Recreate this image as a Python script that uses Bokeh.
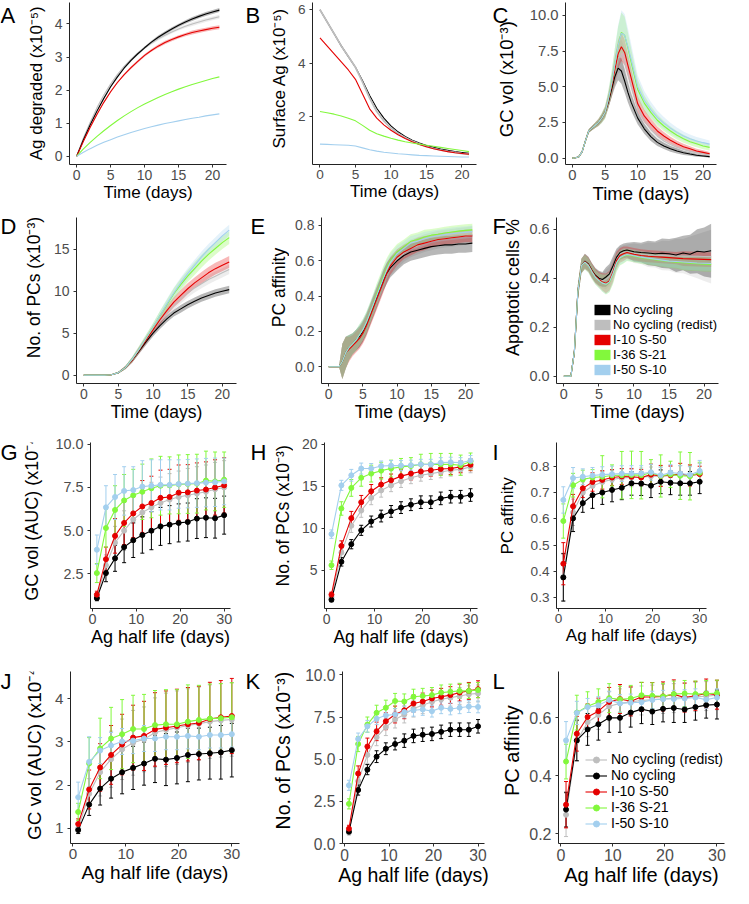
import math
from bokeh.plotting import figure
from bokeh.layouts import column, row
from bokeh.models import (Range1d, FixedTicker, PrintfTickFormatter, Label, Legend, LegendItem,
                          Whisker, TeeHead, ColumnDataSource)
from bokeh.embed import file_html
from bokeh.resources import INLINE

FONT = "Liberation Sans"
ORDER = ["gray", "black", "red", "green", "blue"]
COLOR = {"black": "#000000", "gray": "#BEBEBE", "red": "#E50000", "green": "#82F83C", "blue": "#A3CFEE"}
NAMES = {"black": "No cycling", "gray": "No cycling (redist)", "red": "I-10 S-50",
         "green": "I-36 S-21", "blue": "I-50 S-10"}

# ---------------- time course data ----------------
T_DAY = [0, 1, 2, 3, 4, 5, 6, 7, 8, 9, 10, 11, 12, 13, 14, 15, 16, 17, 18, 19, 20, 21]
T_FINE = [0, 0.5, 1, 1.5, 2, 2.5, 3, 3.5, 4, 4.5, 5, 5.5, 6, 6.5, 7, 7.5, 8, 8.5, 9,
          10, 11, 12, 13, 14, 15, 16, 17, 18, 19, 20, 21]

# A: Ag degraded (x1e-5)
A_black = [0, 0.5, 0.95, 1.37, 1.75, 2.1, 2.4, 2.67, 2.9, 3.1, 3.28, 3.45, 3.6, 3.73, 3.85, 3.96, 4.06, 4.15, 4.23, 4.3, 4.36, 4.42]
A_gray = [0, 0.55, 1.03, 1.47, 1.85, 2.18, 2.47, 2.72, 2.93, 3.12, 3.28, 3.42, 3.55, 3.66, 3.76, 3.85, 3.93, 4.0, 4.06, 4.12, 4.17, 4.22]
A_red = [0, 0.45, 0.88, 1.27, 1.63, 1.95, 2.23, 2.47, 2.68, 2.87, 3.05, 3.2, 3.33, 3.44, 3.53, 3.61, 3.68, 3.74, 3.79, 3.83, 3.87, 3.9]
A_green = [0, 0.22, 0.42, 0.6, 0.77, 0.93, 1.08, 1.22, 1.35, 1.47, 1.58, 1.68, 1.78, 1.87, 1.95, 2.03, 2.1, 2.17, 2.23, 2.29, 2.35, 2.4]
A_blue = [0, 0.12, 0.23, 0.33, 0.42, 0.5, 0.58, 0.65, 0.72, 0.78, 0.84, 0.89, 0.94, 0.99, 1.03, 1.07, 1.11, 1.15, 1.18, 1.22, 1.25, 1.28]
A_sd = [0, 0.01, 0.01, 0.02, 0.02, 0.03, 0.03, 0.03, 0.04, 0.04, 0.04, 0.04, 0.05, 0.05, 0.05, 0.05, 0.05, 0.06, 0.06, 0.06, 0.06, 0.06]

# B: Surface Ag (x1e-5)
B_gray = [6.0, 5.55, 5.1, 4.65, 4.25, 3.85, 3.3, 2.7, 2.2, 1.85, 1.58, 1.38, 1.22, 1.09, 0.98, 0.89, 0.82, 0.76, 0.71, 0.67, 0.63, 0.6]
B_black = [6.0, 5.55, 5.1, 4.65, 4.25, 3.85, 3.35, 2.8, 2.32, 1.95, 1.66, 1.44, 1.27, 1.13, 1.02, 0.93, 0.86, 0.8, 0.75, 0.7, 0.67, 0.64]
B_red = [4.95, 4.65, 4.35, 4.05, 3.75, 3.4, 2.85, 2.3, 1.95, 1.7, 1.5, 1.33, 1.19, 1.07, 0.97, 0.88, 0.81, 0.75, 0.7, 0.66, 0.63, 0.6]
B_green = [2.2, 2.15, 2.1, 2.03, 1.95, 1.85, 1.68, 1.5, 1.37, 1.28, 1.2, 1.13, 1.07, 1.02, 0.98, 0.94, 0.9, 0.86, 0.82, 0.78, 0.74, 0.7]
B_blue = [0.98, 0.97, 0.96, 0.95, 0.94, 0.91, 0.84, 0.77, 0.72, 0.68, 0.65, 0.62, 0.6, 0.58, 0.56, 0.55, 0.54, 0.53, 0.52, 0.51, 0.5, 0.5]

# C: GC vol (x1e-3)
C_black = [0, 0.02, 0.1, 0.45, 1.2, 1.9, 2.1, 2.3, 2.5, 2.8, 3.2, 3.9, 4.8, 5.7, 6.3, 6.1, 5.4, 4.6, 3.9, 2.8, 2.05, 1.5, 1.1, 0.85, 0.65, 0.5, 0.37, 0.28, 0.2, 0.15, 0.1]
C_gray = [0, 0.02, 0.1, 0.45, 1.2, 1.9, 2.1, 2.3, 2.5, 2.8, 3.2, 4.0, 5.0, 6.1, 7.0, 7.2, 6.7, 5.9, 5.0, 3.5, 2.6, 2.0, 1.55, 1.2, 0.95, 0.75, 0.6, 0.47, 0.37, 0.3, 0.22]
C_red = [0, 0.02, 0.1, 0.45, 1.2, 1.9, 2.1, 2.3, 2.5, 2.8, 3.2, 4.0, 5.0, 6.2, 7.3, 7.8, 7.4, 6.5, 5.6, 3.8, 2.95, 2.4, 1.9, 1.55, 1.25, 1.0, 0.8, 0.65, 0.5, 0.4, 0.3]
C_green = [0, 0.02, 0.1, 0.45, 1.2, 1.9, 2.1, 2.3, 2.5, 2.8, 3.2, 4.1, 5.2, 6.6, 7.9, 8.8, 8.6, 7.7, 6.7, 4.8, 3.85, 3.2, 2.65, 2.25, 1.9, 1.6, 1.35, 1.15, 1.0, 0.85, 0.75]
C_blue = [0, 0.02, 0.1, 0.45, 1.2, 1.9, 2.1, 2.3, 2.5, 2.8, 3.2, 4.1, 5.2, 6.6, 7.9, 8.75, 8.6, 7.8, 6.9, 5.0, 4.05, 3.4, 2.85, 2.45, 2.1, 1.8, 1.55, 1.35, 1.2, 1.08, 0.98]
C_black_sd = [0, 0, 0.01, 0.03, 0.08, 0.12, 0.15, 0.18, 0.2, 0.25, 0.3, 0.4, 0.55, 0.75, 0.85, 0.9, 0.8, 0.7, 0.6, 0.45, 0.35, 0.3, 0.25, 0.22, 0.2, 0.18, 0.15, 0.12, 0.1, 0.08, 0.07]
C_gray_sd = [0, 0, 0.01, 0.03, 0.08, 0.12, 0.15, 0.2, 0.25, 0.3, 0.4, 0.55, 0.75, 0.95, 1.1, 1.1, 1.0, 0.85, 0.7, 0.55, 0.45, 0.35, 0.3, 0.27, 0.24, 0.2, 0.18, 0.15, 0.13, 0.11, 0.1]
C_red_sd = [0, 0, 0.01, 0.03, 0.08, 0.12, 0.15, 0.2, 0.25, 0.3, 0.4, 0.5, 0.7, 0.9, 1.0, 1.0, 0.9, 0.8, 0.7, 0.55, 0.45, 0.38, 0.32, 0.28, 0.25, 0.22, 0.2, 0.18, 0.16, 0.14, 0.12]
C_green_sd = [0, 0, 0.01, 0.03, 0.08, 0.12, 0.15, 0.2, 0.25, 0.35, 0.45, 0.6, 0.85, 1.1, 1.3, 1.4, 1.3, 1.1, 0.95, 0.7, 0.55, 0.45, 0.4, 0.35, 0.32, 0.3, 0.28, 0.26, 0.25, 0.24, 0.22]
C_blue_sd = [0, 0, 0.01, 0.03, 0.08, 0.12, 0.15, 0.2, 0.25, 0.35, 0.45, 0.6, 0.85, 1.1, 1.4, 1.6, 1.5, 1.3, 1.1, 0.8, 0.65, 0.55, 0.48, 0.42, 0.38, 0.35, 0.32, 0.3, 0.28, 0.27, 0.25]

# D: No. of PCs (x1e-3)
D_black = [0, 0, 0, 0, 0.05, 0.3, 0.9, 1.8, 2.9, 4.0, 5.0, 5.9, 6.7, 7.4, 7.9, 8.4, 8.8, 9.2, 9.5, 9.8, 10.0, 10.2]
D_gray = [0, 0, 0, 0, 0.05, 0.3, 0.9, 1.8, 3.0, 4.2, 5.3, 6.4, 7.4, 8.3, 9.1, 9.8, 10.4, 10.9, 11.4, 11.8, 12.2, 12.6]
D_red = [0, 0, 0, 0, 0.05, 0.3, 0.9, 1.8, 3.0, 4.2, 5.4, 6.6, 7.7, 8.7, 9.5, 10.3, 11.0, 11.6, 12.2, 12.7, 13.1, 13.5]
D_green = [0, 0, 0, 0, 0.05, 0.3, 0.9, 1.9, 3.1, 4.4, 5.7, 7.1, 8.4, 9.7, 10.8, 11.8, 12.7, 13.6, 14.4, 15.1, 15.8, 16.4]
D_blue = [0, 0, 0, 0, 0.05, 0.3, 0.9, 1.9, 3.1, 4.4, 5.7, 7.1, 8.5, 9.8, 11.0, 12.1, 13.1, 14.1, 15.0, 15.8, 16.6, 17.3]
D_black_sd = [0, 0, 0, 0, 0.02, 0.1, 0.2, 0.3, 0.35, 0.4, 0.4, 0.4, 0.4, 0.4, 0.45, 0.45, 0.45, 0.45, 0.45, 0.45, 0.45, 0.45]
D_gray_sd = [0, 0, 0, 0, 0.02, 0.1, 0.2, 0.3, 0.35, 0.4, 0.45, 0.5, 0.5, 0.5, 0.55, 0.55, 0.55, 0.55, 0.55, 0.55, 0.55, 0.55]
D_red_sd = [0, 0, 0, 0, 0.02, 0.1, 0.2, 0.3, 0.4, 0.45, 0.5, 0.55, 0.6, 0.6, 0.65, 0.65, 0.65, 0.7, 0.7, 0.7, 0.7, 0.7]
D_green_sd = [0, 0, 0, 0, 0.02, 0.1, 0.2, 0.3, 0.4, 0.45, 0.5, 0.55, 0.6, 0.65, 0.7, 0.7, 0.75, 0.75, 0.75, 0.75, 0.75, 0.75]
D_blue_sd = [0, 0, 0, 0, 0.02, 0.1, 0.2, 0.3, 0.4, 0.45, 0.5, 0.55, 0.6, 0.65, 0.65, 0.65, 0.65, 0.65, 0.65, 0.65, 0.65, 0.65]

# E: PC affinity
E_black = [0, 0, 0, 0, 0.03, 0.08, 0.11, 0.13, 0.15, 0.17, 0.2, 0.24, 0.29, 0.34, 0.39, 0.44, 0.49, 0.53, 0.56, 0.6, 0.63, 0.65, 0.66, 0.67, 0.68, 0.685, 0.69, 0.69, 0.695, 0.695, 0.7]
E_gray = [0, 0, 0, 0, 0.03, 0.08, 0.11, 0.13, 0.15, 0.17, 0.2, 0.24, 0.29, 0.34, 0.39, 0.44, 0.49, 0.53, 0.57, 0.61, 0.645, 0.67, 0.685, 0.7, 0.71, 0.72, 0.725, 0.73, 0.735, 0.74, 0.745]
E_red = [0, 0, 0, 0, 0.03, 0.08, 0.1, 0.12, 0.14, 0.16, 0.19, 0.23, 0.28, 0.33, 0.38, 0.43, 0.48, 0.53, 0.57, 0.62, 0.65, 0.67, 0.69, 0.7, 0.71, 0.72, 0.725, 0.73, 0.735, 0.74, 0.74]
E_green = [0, 0, 0, 0, 0.03, 0.08, 0.11, 0.13, 0.15, 0.18, 0.21, 0.25, 0.3, 0.35, 0.41, 0.46, 0.51, 0.56, 0.6, 0.65, 0.68, 0.71, 0.72, 0.735, 0.745, 0.75, 0.757, 0.763, 0.768, 0.772, 0.775]
E_blue = [0, 0, 0, 0, 0.03, 0.08, 0.11, 0.13, 0.15, 0.18, 0.21, 0.25, 0.3, 0.35, 0.4, 0.45, 0.5, 0.55, 0.59, 0.64, 0.67, 0.7, 0.71, 0.725, 0.735, 0.742, 0.748, 0.753, 0.757, 0.761, 0.765]
E_sd_black = [0, 0, 0, 0, 0.1, 0.09, 0.07, 0.06, 0.06, 0.06, 0.06, 0.06, 0.06, 0.06, 0.06, 0.06, 0.06, 0.06, 0.055, 0.055, 0.05, 0.05, 0.05, 0.05, 0.05, 0.05, 0.05, 0.05, 0.05, 0.05, 0.05]
E_sd_other = [0, 0, 0, 0, 0.1, 0.09, 0.07, 0.06, 0.06, 0.06, 0.06, 0.06, 0.06, 0.06, 0.06, 0.06, 0.06, 0.055, 0.05, 0.045, 0.04, 0.04, 0.04, 0.04, 0.035, 0.035, 0.035, 0.035, 0.035, 0.035, 0.035]

# F: Apoptotic cells %
F_black = [0, 0, 0, 0.1, 0.345, 0.45, 0.47, 0.458, 0.432, 0.412, 0.4, 0.395, 0.405, 0.418, 0.45, 0.485, 0.505, 0.512, 0.515, 0.508, 0.505, 0.503, 0.5, 0.502, 0.5, 0.495, 0.503, 0.498, 0.51, 0.507, 0.512]
F_gray = [0, 0, 0, 0.1, 0.345, 0.45, 0.47, 0.458, 0.43, 0.41, 0.398, 0.39, 0.395, 0.408, 0.44, 0.478, 0.5, 0.505, 0.508, 0.502, 0.498, 0.496, 0.494, 0.493, 0.492, 0.491, 0.49, 0.49, 0.49, 0.489, 0.488]
F_red = [0, 0, 0, 0.1, 0.345, 0.45, 0.468, 0.455, 0.43, 0.408, 0.395, 0.385, 0.379, 0.39, 0.425, 0.472, 0.493, 0.5, 0.505, 0.498, 0.493, 0.49, 0.488, 0.486, 0.484, 0.482, 0.48, 0.479, 0.478, 0.477, 0.476]
F_green = [0, 0, 0, 0.1, 0.345, 0.45, 0.466, 0.452, 0.426, 0.404, 0.39, 0.38, 0.374, 0.383, 0.415, 0.46, 0.482, 0.49, 0.495, 0.49, 0.484, 0.48, 0.476, 0.472, 0.468, 0.465, 0.463, 0.461, 0.459, 0.457, 0.456]
F_blue = [0, 0, 0, 0.1, 0.345, 0.45, 0.466, 0.452, 0.426, 0.404, 0.39, 0.38, 0.375, 0.385, 0.418, 0.462, 0.484, 0.492, 0.497, 0.492, 0.486, 0.482, 0.478, 0.474, 0.47, 0.468, 0.466, 0.464, 0.462, 0.461, 0.46]
F_sd_wide = [0, 0, 0, 0.02, 0.03, 0.03, 0.03, 0.03, 0.03, 0.03, 0.03, 0.03, 0.04, 0.04, 0.04, 0.035, 0.03, 0.03, 0.03, 0.04, 0.04, 0.05, 0.05, 0.06, 0.06, 0.07, 0.07, 0.08, 0.09, 0.1, 0.11]
F_sd_narrow = [0, 0, 0, 0.02, 0.03, 0.03, 0.03, 0.03, 0.03, 0.03, 0.03, 0.035, 0.04, 0.04, 0.04, 0.035, 0.03, 0.03, 0.025, 0.025, 0.025, 0.025, 0.025, 0.025, 0.025, 0.025, 0.03, 0.03, 0.03, 0.03, 0.03]

# ---------------- Ag half-life data ----------------
HALF_LIFE = [1, 3.07, 5.14, 7.21, 9.29, 11.36, 13.43, 15.5, 17.57, 19.64, 21.71, 23.79, 25.86, 27.93, 30]

G_black = [1.1, 2.55, 3.4, 4.05, 4.45, 4.75, 5.0, 5.25, 5.35, 5.45, 5.5, 5.7, 5.75, 5.72, 5.9]
G_gray = [1.15, 3.0, 4.3, 5.0, 5.65, 6.05, 6.35, 6.6, 6.8, 6.95, 7.05, 7.15, 7.25, 7.4, 7.5]
G_red = [1.3, 3.35, 4.7, 5.45, 6.0, 6.4, 6.6, 6.9, 6.95, 7.2, 7.22, 7.32, 7.38, 7.5, 7.62]
G_green = [2.55, 5.15, 6.2, 6.75, 7.05, 7.25, 7.45, 7.6, 7.62, 7.68, 7.7, 7.72, 7.9, 7.85, 7.95]
G_blue = [3.9, 6.35, 6.95, 7.3, 7.35, 7.55, 7.6, 7.65, 7.65, 7.7, 7.72, 7.75, 7.78, 7.8, 7.85]
G_black_sd = [0.15, 0.5, 0.75, 0.9, 1.0, 1.05, 1.1, 1.1, 1.1, 1.1, 1.1, 1.15, 1.15, 1.15, 1.1]
G_gray_sd = [0.15, 0.6, 0.95, 1.15, 1.3, 1.4, 1.45, 1.5, 1.5, 1.5, 1.55, 1.55, 1.55, 1.55, 1.55]
G_red_sd = [0.2, 0.7, 1.0, 1.25, 1.4, 1.5, 1.55, 1.6, 1.6, 1.6, 1.6, 1.6, 1.6, 1.6, 1.6]
G_green_sd = [0.55, 1.1, 1.4, 1.5, 1.5, 1.6, 1.7, 1.7, 1.65, 1.7, 1.7, 1.7, 1.7, 1.7, 1.6]
G_blue_sd = [0.85, 1.25, 1.3, 1.4, 1.35, 1.5, 1.5, 1.45, 1.45, 1.4, 1.4, 1.4, 1.4, 1.4, 1.35]

H_black = [1.5, 6.0, 8.1, 9.75, 10.8, 11.45, 12.0, 12.45, 12.8, 13.1, 13.1, 13.55, 13.75, 13.75, 13.95]
H_gray = [1.8, 7.1, 10.3, 12.1, 13.6, 14.5, 15.1, 15.6, 16.0, 16.3, 16.5, 16.7, 16.9, 17.0, 17.3]
H_red = [2.1, 7.9, 11.2, 13.1, 14.4, 15.2, 15.7, 16.2, 16.5, 16.75, 16.9, 17.05, 17.1, 17.3, 17.55]
H_green = [5.6, 12.35, 14.8, 16.0, 16.5, 16.85, 17.1, 17.3, 17.4, 17.6, 17.6, 17.6, 17.6, 17.5, 17.95]
H_blue = [9.3, 15.1, 16.3, 17.1, 17.1, 17.4, 17.45, 17.45, 17.5, 17.6, 17.6, 17.8, 17.85, 17.8, 18.05]
H_black_sd = [0.25, 0.5, 0.55, 0.6, 0.65, 0.7, 0.7, 0.7, 0.7, 0.75, 0.75, 0.75, 0.75, 0.75, 0.75]
H_gray_sd = [0.3, 0.6, 0.8, 0.8, 0.8, 0.8, 0.75, 0.75, 0.7, 0.7, 0.7, 0.7, 0.7, 0.7, 0.7]
H_red_sd = [0.3, 0.6, 0.8, 0.8, 0.8, 0.8, 0.75, 0.75, 0.75, 0.7, 0.7, 0.7, 0.7, 0.7, 0.7]
H_green_sd = [0.5, 0.8, 1.0, 1.0, 1.0, 1.0, 1.0, 1.0, 1.0, 1.2, 1.3, 1.3, 1.3, 1.2, 1.0]
H_blue_sd = [0.5, 0.6, 0.7, 0.65, 0.6, 0.6, 0.6, 0.6, 0.6, 0.6, 0.6, 0.6, 0.6, 0.6, 0.6]

I_black = [0.378, 0.602, 0.66, 0.69, 0.7, 0.71, 0.718, 0.735, 0.734, 0.726, 0.741, 0.737, 0.735, 0.735, 0.741]
I_gray = [0.38, 0.625, 0.7, 0.725, 0.74, 0.75, 0.755, 0.757, 0.758, 0.762, 0.762, 0.765, 0.767, 0.765, 0.775]
I_red = [0.43, 0.648, 0.716, 0.74, 0.748, 0.757, 0.761, 0.76, 0.757, 0.768, 0.763, 0.766, 0.771, 0.765, 0.77]
I_green = [0.592, 0.728, 0.75, 0.757, 0.76, 0.765, 0.766, 0.767, 0.766, 0.775, 0.763, 0.769, 0.764, 0.762, 0.775]
I_blue = [0.672, 0.755, 0.76, 0.765, 0.768, 0.77, 0.772, 0.772, 0.772, 0.777, 0.766, 0.776, 0.772, 0.768, 0.782]
I_black_sd = [0.09, 0.05, 0.035, 0.05, 0.045, 0.045, 0.045, 0.045, 0.045, 0.045, 0.045, 0.045, 0.045, 0.045, 0.045]
I_gray_sd = [0.09, 0.05, 0.04, 0.04, 0.04, 0.035, 0.035, 0.035, 0.035, 0.035, 0.035, 0.035, 0.035, 0.035, 0.035]
I_red_sd = [0.08, 0.045, 0.035, 0.035, 0.035, 0.03, 0.03, 0.03, 0.03, 0.04, 0.04, 0.035, 0.04, 0.04, 0.03]
I_green_sd = [0.065, 0.045, 0.035, 0.03, 0.08, 0.04, 0.09, 0.09, 0.09, 0.05, 0.08, 0.05, 0.09, 0.09, 0.04]
I_blue_sd = [0.05, 0.04, 0.03, 0.03, 0.03, 0.03, 0.03, 0.03, 0.03, 0.03, 0.03, 0.03, 0.03, 0.03, 0.04]

J_black = [0.96, 1.55, 1.92, 2.15, 2.3, 2.4, 2.5, 2.61, 2.59, 2.63, 2.7, 2.72, 2.74, 2.76, 2.81]
J_gray = [1.0, 1.8, 2.3, 2.6, 2.83, 2.98, 3.06, 3.22, 3.28, 3.33, 3.38, 3.42, 3.47, 3.5, 3.52]
J_red = [1.1, 1.9, 2.41, 2.7, 2.94, 3.1, 3.14, 3.29, 3.33, 3.37, 3.41, 3.44, 3.53, 3.57, 3.6]
J_green = [1.38, 2.5, 2.85, 3.08, 3.18, 3.3, 3.3, 3.39, 3.41, 3.41, 3.47, 3.51, 3.54, 3.55, 3.57]
J_blue = [1.72, 2.54, 2.8, 2.92, 3.01, 3.03, 3.08, 3.08, 3.12, 3.12, 3.14, 3.12, 3.16, 3.16, 3.18]
J_black_sd = [0.08, 0.25, 0.38, 0.45, 0.5, 0.5, 0.5, 0.55, 0.6, 0.6, 0.62, 0.6, 0.6, 0.62, 0.62]
J_gray_sd = [0.1, 0.35, 0.55, 0.65, 0.7, 0.75, 0.75, 0.8, 0.85, 0.85, 0.85, 0.85, 0.85, 0.85, 0.85]
J_red_sd = [0.12, 0.45, 0.55, 0.68, 0.7, 0.75, 0.8, 0.85, 0.85, 0.85, 0.85, 0.85, 0.85, 0.85, 0.87]
J_green_sd = [0.2, 0.6, 0.7, 0.72, 0.8, 0.78, 0.8, 0.8, 0.8, 0.8, 0.85, 0.8, 0.8, 0.8, 0.8]
J_blue_sd = [0.35, 0.58, 0.3, 0.3, 0.3, 0.3, 0.3, 0.3, 0.3, 0.3, 0.3, 0.3, 0.3, 0.3, 0.3]

K_black = [0.7, 3.17, 4.38, 5.15, 5.62, 5.9, 6.1, 6.38, 6.45, 6.5, 6.62, 6.75, 6.75, 6.75, 6.95]
K_gray = [0.65, 3.7, 5.25, 6.3, 6.9, 7.35, 7.65, 8.0, 8.2, 8.4, 8.55, 8.65, 8.75, 8.85, 8.9]
K_red = [0.88, 4.15, 5.75, 6.65, 7.25, 7.65, 7.9, 8.3, 8.42, 8.6, 8.7, 8.8, 8.95, 9.05, 9.15]
K_green = [2.35, 5.9, 7.05, 7.75, 8.05, 8.45, 8.42, 8.7, 8.75, 8.8, 8.95, 9.0, 9.05, 9.05, 9.1]
K_blue = [3.45, 6.2, 6.95, 7.4, 7.6, 7.65, 7.8, 7.9, 7.95, 7.85, 8.05, 7.98, 8.05, 8.12, 8.1]
K_black_sd = [0.15, 0.3, 0.3, 0.35, 0.35, 0.35, 0.4, 0.4, 0.4, 0.4, 0.4, 0.4, 0.4, 0.4, 0.4]
K_gray_sd = [0.15, 0.4, 0.5, 0.5, 0.5, 0.5, 0.5, 0.5, 0.5, 0.5, 0.5, 0.5, 0.5, 0.5, 0.5]
K_red_sd = [0.2, 0.45, 0.5, 0.55, 0.5, 0.5, 0.5, 0.5, 0.5, 0.5, 0.5, 0.5, 0.5, 0.5, 0.5]
K_green_sd = [0.3, 0.45, 0.45, 0.45, 0.45, 0.45, 0.45, 0.45, 0.45, 0.45, 0.45, 0.45, 0.45, 0.45, 0.45]
K_blue_sd = [0.3, 0.35, 0.35, 0.35, 0.35, 0.35, 0.35, 0.35, 0.35, 0.35, 0.35, 0.35, 0.35, 0.35, 0.35]

L_black = [0.283, 0.522, 0.56, 0.578, 0.6, 0.6, 0.618, 0.63, 0.622, 0.631, 0.634, 0.629, 0.637, 0.644, 0.646]
L_gray = [0.265, 0.52, 0.585, 0.61, 0.64, 0.65, 0.655, 0.66, 0.663, 0.665, 0.668, 0.67, 0.672, 0.675, 0.678]
L_red = [0.3, 0.545, 0.603, 0.623, 0.655, 0.665, 0.657, 0.672, 0.672, 0.674, 0.681, 0.67, 0.676, 0.684, 0.68]
L_green = [0.449, 0.618, 0.64, 0.655, 0.668, 0.664, 0.667, 0.678, 0.676, 0.674, 0.682, 0.684, 0.682, 0.684, 0.685]
L_blue = [0.522, 0.617, 0.637, 0.643, 0.662, 0.65, 0.652, 0.654, 0.662, 0.665, 0.665, 0.667, 0.67, 0.663, 0.67]
L_black_sd = [0.06, 0.07, 0.055, 0.055, 0.05, 0.05, 0.05, 0.05, 0.045, 0.045, 0.05, 0.045, 0.045, 0.045, 0.05]
L_gray_sd = [0.075, 0.07, 0.05, 0.05, 0.05, 0.05, 0.05, 0.05, 0.05, 0.05, 0.05, 0.05, 0.05, 0.05, 0.05]
L_red_sd = [0.08, 0.06, 0.045, 0.045, 0.05, 0.05, 0.05, 0.05, 0.05, 0.05, 0.05, 0.05, 0.05, 0.05, 0.05]
L_green_sd = [0.06, 0.06, 0.05, 0.045, 0.05, 0.045, 0.045, 0.045, 0.045, 0.045, 0.045, 0.045, 0.045, 0.045, 0.045]
L_blue_sd = [0.065, 0.04, 0.03, 0.03, 0.03, 0.03, 0.03, 0.03, 0.03, 0.03, 0.03, 0.03, 0.03, 0.03, 0.03]

TIME_TICKS = [0, 5, 10, 15, 20]
HL_TICKS = [0, 10, 20, 30]
TIME_LABEL = "Time (days)"
HL_LABEL = "Ag half life (days)"

TX = (-1.05, 22.05)
HX = (-0.45, 31.45)
COLW = [245, 245, 243]
ROWS = [  # (height, min_border_top, min_border_bottom, letter_top)
    (208, 2, 44, 0),
    (218, 9, 43, -4),
    (224, 16, 42, -4),
    (238, 21, 40, -4),
]


def strip(S, row_spec, letter, lx, ylabel, cx, fs_title, top_anchor=None):
    h, bt, bb, ly = row_spec
    s = figure(width=S, height=h, x_range=Range1d(0, S), y_range=Range1d(h, 0),
               output_backend="svg", toolbar_location=None, min_border=0,
               x_axis_type=None, y_axis_type=None)
    s.outline_line_color = None
    s.background_fill_color = "white"
    s.border_fill_color = "white"
    s.add_layout(Label(x=lx, y=ly, text=letter, text_font=FONT, text_font_size="22px",
                       text_baseline="top", text_align="left", text_color="black"))
    if top_anchor is None:
        ty, align = (bt + h - bb) / 2, "center"
    else:
        ty, align = top_anchor, "right"   # end of the rotated title pinned near the top
    s.add_layout(Label(x=cx, y=ty, text=ylabel, angle=math.pi / 2,
                       text_font=FONT, text_font_size=f"{fs_title}px", text_align=align,
                       text_baseline="middle", text_color="black"))
    return s


def panel(w, row_spec, xr, yr, bl, br, xlabel, xticks, yticks, yfmt, fs_title, fs_tick):
    h, bt, bb, _ = row_spec
    p = figure(width=w, height=h, x_range=Range1d(*xr), y_range=Range1d(*yr),
               output_backend="svg", toolbar_location=None,
               min_border_left=bl, min_border_right=br, min_border_top=bt, min_border_bottom=bb)
    p.outline_line_color = None
    p.xgrid.visible = False
    p.ygrid.visible = False
    p.background_fill_color = "white"
    p.border_fill_color = "white"
    for ax in (p.xaxis[0], p.yaxis[0]):
        ax.axis_line_color = "#222222"
        ax.axis_line_width = 1
        ax.major_tick_line_color = "#333333"
        ax.major_tick_out = 3
        ax.major_tick_in = 0
        ax.minor_tick_line_color = None
        ax.major_label_text_font = FONT
        ax.major_label_text_color = "#4D4D4D"
        ax.major_label_text_font_size = f"{fs_tick}px"
        ax.axis_label_text_font = FONT
        ax.axis_label_text_font_style = "normal"
        ax.axis_label_text_color = "black"
        ax.axis_label_text_font_size = f"{fs_title}px"
    p.xaxis.ticker = FixedTicker(ticks=xticks)
    p.yaxis.ticker = FixedTicker(ticks=yticks)
    p.yaxis.formatter = PrintfTickFormatter(format=yfmt)
    p.xaxis.axis_label = xlabel
    p.xaxis.major_label_standoff = 2
    p.xaxis.axis_label_standoff = 0
    p.yaxis.major_label_standoff = 4
    return p


def make(col, r, letter, lx, S, cx, ylabel, xr, yr, bl, br, xlabel, xticks, yticks, yfmt,
         fs_title, fs_tick, top_anchor=None):
    rs = ROWS[r]
    s = strip(S, rs, letter, lx, ylabel, cx, fs_title, top_anchor)
    p = panel(COLW[col] - S, rs, xr, yr, bl - S, br, xlabel, xticks, yticks, yfmt, fs_title, fs_tick)
    return s, p


def draw_time(p, t, means, sds, order=ORDER, widths=None):
    widths = widths or {}
    for k in order:
        if k in sds:
            lo = [m - s for m, s in zip(means[k], sds[k])]
            hi = [m + s for m, s in zip(means[k], sds[k])]
            p.varea(x=t, y1=lo, y2=hi, fill_color=COLOR[k], fill_alpha=0.28)
    for k in order:
        p.line(t, means[k], line_color=COLOR[k], line_width=widths.get(k, 1.1))


def draw_hl(p, means, sds):
    rends = {}
    for k in ORDER:
        lo = [m - s for m, s in zip(means[k], sds[k])]
        hi = [m + s for m, s in zip(means[k], sds[k])]
        src = ColumnDataSource(dict(x=HALF_LIFE, lower=lo, upper=hi))
        p.add_layout(Whisker(source=src, base="x", lower="lower", upper="upper",
                             line_color=COLOR[k], line_width=1,
                             upper_head=TeeHead(size=4, line_color=COLOR[k], line_width=1),
                             lower_head=TeeHead(size=4, line_color=COLOR[k], line_width=1)))
    for k in ORDER:
        ln = p.line(HALF_LIFE, means[k], line_color=COLOR[k], line_width=1.1)
        sc = p.scatter(HALF_LIFE, means[k], size=5, color=COLOR[k])
        rends[k] = (ln, sc)
    return rends


# Row 1
sA, pA = make(0, 0, "A", 0, 47, 35.5, "Ag degraded (x10⁻⁵)", TX, (-0.25, 4.65), 69, 19,
              TIME_LABEL, TIME_TICKS, [0, 1, 2, 3, 4], "%d", 17, 14, top_anchor=5)
draw_time(pA, T_DAY, dict(black=A_black, gray=A_gray, red=A_red, green=A_green, blue=A_blue),
          dict(black=A_sd, gray=A_sd, red=A_sd))
sB, pB = make(1, 0, "B", 0, 45, 34, "Surface Ag (x10⁻⁵)", TX, (0.22, 6.27), 67, 14,
              TIME_LABEL, TIME_TICKS, [2, 4, 6], "%d", 17, 13.6, top_anchor=7)
draw_time(pB, T_DAY, dict(black=B_black, gray=B_gray, red=B_red, green=B_green, blue=B_blue), {},
          order=["black", "gray", "red", "green", "blue"], widths={"gray": 1.8})
sC, pC = make(2, 0, "C", 2, 28, 16, "GC vol (x10⁻³)", TX, (-0.45, 10.9), 75, 17,
              TIME_LABEL, TIME_TICKS, [0, 2.5, 5, 7.5, 10], "%.1f", 18.5, 14.8, top_anchor=24)
draw_time(pC, T_FINE, dict(black=C_black, gray=C_gray, red=C_red, green=C_green, blue=C_blue),
          dict(black=C_black_sd, gray=C_gray_sd, red=C_red_sd, green=C_green_sd, blue=C_blue_sd))

# Row 2
sD, pD = make(0, 1, "D", 0, 45, 33.5, "No. of PCs (x10⁻³)", TX, (-1.0, 18.8), 76, 9,
              TIME_LABEL, TIME_TICKS, [0, 5, 10, 15], "%d", 17.5, 14)
draw_time(pD, T_DAY, dict(black=D_black, gray=D_gray, red=D_red, green=D_green, blue=D_blue),
          dict(black=D_black_sd, gray=D_gray_sd, red=D_red_sd, green=D_green_sd, blue=D_blue_sd))
sE, pE = make(1, 1, "E", 5, 44, 33, "PC affinity", TX, (-0.095, 0.845), 76, 11,
              TIME_LABEL, TIME_TICKS, [0, 0.2, 0.4, 0.6, 0.8], "%.1f", 17.5, 14)
draw_time(pE, T_FINE, dict(black=E_black, gray=E_gray, red=E_red, green=E_green, blue=E_blue),
          dict(black=E_sd_black, gray=E_sd_black, red=E_sd_other, green=E_sd_other, blue=E_sd_other))
sF, pF = make(2, 1, "F", 2, 34, 22.5, "Apoptotic cells %", TX, (-0.03, 0.648), 66, 15,
              TIME_LABEL, TIME_TICKS, [0, 0.2, 0.4, 0.6], "%.1f", 18, 14.4)
draw_time(pF, T_FINE, dict(black=F_black, gray=F_gray, red=F_red, green=F_green, blue=F_blue),
          dict(black=F_sd_wide, gray=F_sd_wide, red=F_sd_narrow, green=F_sd_narrow, blue=F_sd_narrow))
F_SERIES = dict(black=F_black, gray=F_gray, red=F_red, green=F_green, blue=F_blue)
f_items = []
for k in ["black", "gray", "red", "green", "blue"]:
    # zero-area key glyph anchored on the first data point (only its legend swatch is visible)
    r = pF.quad(left=T_FINE[:1], right=T_FINE[:1], top=F_SERIES[k][:1], bottom=F_SERIES[k][:1],
                fill_color=COLOR[k], line_color=None)
    f_items.append(LegendItem(label=NAMES[k], renderers=[r]))
legF = Legend(items=f_items, location=(36, 6), padding=0, margin=0, spacing=0,
              border_line_color=None, background_fill_alpha=0,
              glyph_width=20, glyph_height=13, label_height=15, label_standoff=1,
              label_text_font=FONT, label_text_font_size="13px", label_text_color="black")
pF.add_layout(legF)

# Row 3
sG, pG = make(0, 2, "G", 0, 43, 31.5, "GC vol (AUC) (x10⁻⁴)", HX, (0.5, 10.1), 90, 15,
              HL_LABEL, HL_TICKS, [2.5, 5, 7.5, 10], "%.1f", 18, 14.4)
draw_hl(pG, dict(black=G_black, gray=G_gray, red=G_red, green=G_green, blue=G_blue),
        dict(black=G_black_sd, gray=G_gray_sd, red=G_red_sd, green=G_green_sd, blue=G_blue_sd))
sH, pH = make(1, 2, "H", 5, 48, 37, "No. of PCs (x10⁻³)", HX, (0.45, 20.2), 79, 13,
              HL_LABEL, HL_TICKS, [5, 10, 15, 20], "%d", 17.5, 14)
draw_hl(pH, dict(black=H_black, gray=H_gray, red=H_red, green=H_green, blue=H_blue),
        dict(black=H_black_sd, gray=H_gray_sd, red=H_red_sd, green=H_green_sd, blue=H_blue_sd))
sI, pI = make(2, 2, "I", 2, 28, 17, "PC affinity", HX, (0.26, 0.89), 66, 27,
              HL_LABEL, HL_TICKS, [0.3, 0.4, 0.5, 0.6, 0.7, 0.8], "%.1f", 17, 13.6)
draw_hl(pI, dict(black=I_black, gray=I_gray, red=I_red, green=I_green, blue=I_blue),
        dict(black=I_black_sd, gray=I_gray_sd, red=I_red_sd, green=I_green_sd, blue=I_blue_sd))

# Row 4
sJ, pJ = make(0, 3, "J", 0, 46, 33.5, "GC vol (AUC) (x10⁻⁴)", HX, (0.65, 4.63), 70, 6,
              HL_LABEL, HL_TICKS, [1, 2, 3, 4], "%d", 19, 15.2)
draw_hl(pJ, dict(black=J_black, gray=J_gray, red=J_red, green=J_green, blue=J_blue),
        dict(black=J_black_sd, gray=J_gray_sd, red=J_red_sd, green=J_green_sd, blue=J_blue_sd))
sK, pK = make(1, 3, "K", 0, 49, 37, "No. of PCs (x10⁻³)", HX, (0.0, 10.2), 97, 6,
              HL_LABEL, HL_TICKS, [0, 2.5, 5, 7.5, 10], "%.1f", 19.5, 15.6)
draw_hl(pK, dict(black=K_black, gray=K_gray, red=K_red, green=K_green, blue=K_blue),
        dict(black=K_black_sd, gray=K_gray_sd, red=K_red_sd, green=K_green_sd, blue=K_blue_sd))
sL, pL = make(2, 3, "L", 2, 34, 21.5, "PC affinity", HX, (0.166, 0.76), 68, 9,
              HL_LABEL, HL_TICKS, [0.2, 0.4, 0.6], "%.1f", 20, 16)
l_rends = draw_hl(pL, dict(black=L_black, gray=L_gray, red=L_red, green=L_green, blue=L_blue),
                  dict(black=L_black_sd, gray=L_gray_sd, red=L_red_sd, green=L_green_sd, blue=L_blue_sd))
l_items = [LegendItem(label=NAMES[k], renderers=list(l_rends[k]))
           for k in ["gray", "black", "red", "green", "blue"]]
legL = Legend(items=l_items, location=(27, 12), padding=0, margin=0, spacing=0,
              border_line_color=None, background_fill_alpha=0,
              glyph_width=22, glyph_height=15, label_height=15, label_standoff=4,
              label_text_font=FONT, label_text_font_size="14px", label_text_color="black")
pL.add_layout(legL)

layout = column(row(sA, pA, sB, pB, sC, pC),
                row(sD, pD, sE, pE, sF, pF),
                row(sG, pG, sH, pH, sI, pI),
                row(sJ, pJ, sK, pK, sL, pL))
open("out.html", "w").write(file_html(layout, INLINE))
